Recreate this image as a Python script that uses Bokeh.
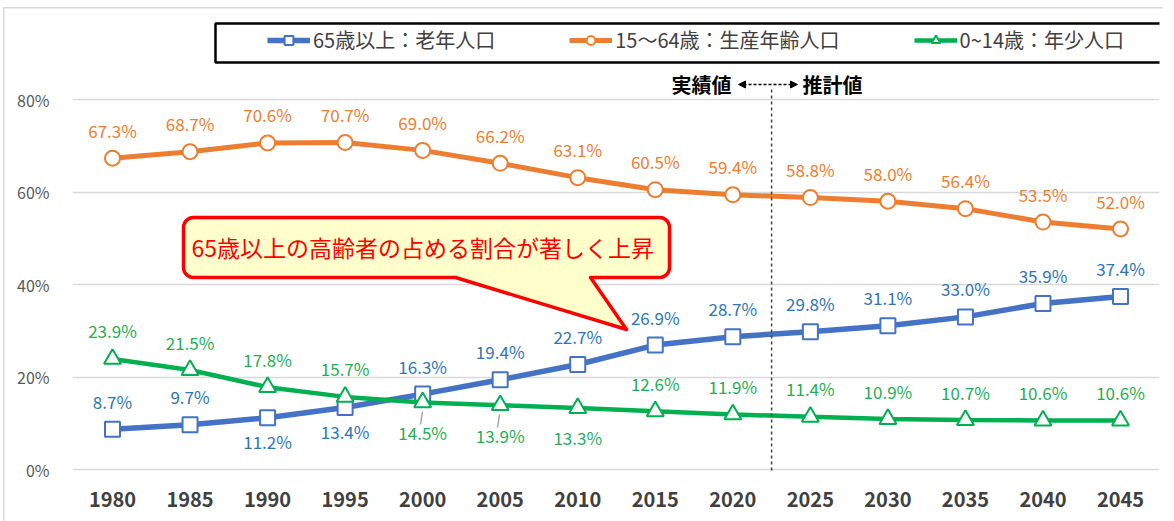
import numpy as np
from bokeh.plotting import figure
from bokeh.models import (ColumnDataSource, Legend, LegendItem, FixedTicker, PrintfTickFormatter,
                          Range1d, Arrow, NormalHead, BoxAnnotation)
from bokeh.core.properties import value
from bokeh.embed import file_html
from bokeh.resources import INLINE

# ---------------- data ----------------
years = [1980, 1985, 1990, 1995, 2000, 2005, 2010, 2015, 2020, 2025, 2030, 2035, 2040, 2045]
old_pct = [8.7, 9.7, 11.2, 13.4, 16.3, 19.4, 22.7, 26.9, 28.7, 29.8, 31.1, 33.0, 35.9, 37.4]
working_pct = [67.3, 68.7, 70.6, 70.7, 69.0, 66.2, 63.1, 60.5, 59.4, 58.8, 58.0, 56.4, 53.5, 52.0]
young_pct = [23.9, 21.5, 17.8, 15.7, 14.5, 13.9, 13.3, 12.6, 11.9, 11.4, 10.9, 10.7, 10.6, 10.6]
y_ticks = [0, 20, 40, 60, 80]
series_names = ["65歳以上：老年人口", "15～64歳：生産年齢人口", "0~14歳：年少人口"]
callout_text = "65歳以上の高齢者の占める割合が著しく上昇"
actual_text = "実績値"
forecast_text = "推計値"
old_below_years = [1990, 1995]
young_below_years = [2000, 2005, 2010]

# ---------------- style ----------------
BLUE = "#4472C4"
BLUE_LBL = "#2E75B6"
ORANGE = "#ED7D31"
GREEN = "#00B050"
GREEN_LBL = "#1FAE55"
FONT = "Noto Sans CJK JP"

W, H = 1174, 521
F_LEFT, F_RIGHT, F_TOP, F_BOTTOM = 72, 1159, 16, 471
PX_PER_YEAR = 77.54 / 5
PX_PER_PCT = 4.625


def dx(px):
    return 1980 + (px - 112) / PX_PER_YEAR


def dy(py):
    return (469 - py) / PX_PER_PCT


# faint chart-area border (left and top edges) drawn as host background
border_css = ("linear-gradient(#D9D9D9, #D9D9D9) 3px 7px / 1.5px 520px no-repeat, "
              "linear-gradient(#D9D9D9, #D9D9D9) 3px 7px / 1160px 1.5px no-repeat, white")

p = figure(width=W, height=H, output_backend="svg", toolbar_location=None,
           x_range=Range1d(dx(F_LEFT), dx(F_RIGHT)), y_range=Range1d(dy(F_BOTTOM), dy(F_TOP)),
           min_border_left=F_LEFT, min_border_right=W - F_RIGHT,
           min_border_top=F_TOP, min_border_bottom=H - F_BOTTOM,
           styles={"background": border_css})
p.outline_line_color = None
p.background_fill_color = "white"
p.border_fill_color = None

# axes
p.yaxis.ticker = FixedTicker(ticks=y_ticks)
p.yaxis.formatter = PrintfTickFormatter(format="%d%%")
p.yaxis.axis_line_color = None
p.yaxis.major_tick_line_color = None
p.yaxis.minor_tick_line_color = None
p.yaxis.major_label_text_font = FONT
p.yaxis.major_label_text_font_size = "16px"
p.yaxis.major_label_text_color = "#595959"
p.yaxis.major_label_standoff = 17

p.xaxis.ticker = FixedTicker(ticks=years)
p.xaxis.axis_line_color = None
p.xaxis.major_tick_line_color = None
p.xaxis.minor_tick_line_color = None
p.xaxis.major_label_text_font = FONT
p.xaxis.major_label_text_font_size = "20px"
p.xaxis.major_label_text_font_style = "bold"
p.xaxis.major_label_text_color = "#404040"
p.xaxis.major_label_standoff = 14

p.xgrid.grid_line_color = None
p.ygrid.ticker = FixedTicker(ticks=y_ticks)
p.ygrid.grid_line_color = "#D9D9D9"
p.ygrid.grid_line_width = 1.5

# vertical dashed separator
p.add_layout(Arrow(end=None, x_start=2022.5, x_end=2022.5, y_start=dy(89), y_end=dy(512),
                   line_dash="3 3", line_color="#404040", line_width=1.5))

# series
r_old_l = p.line(years, old_pct, line_color=BLUE, line_width=5.5)
r_old_m = p.scatter(years, old_pct, marker="square", size=15, fill_color="white",
                    line_color=BLUE, line_width=2)
r_wk_l = p.line(years, working_pct, line_color=ORANGE, line_width=5)
r_wk_m = p.scatter(years, working_pct, marker="circle", size=15, fill_color="white",
                   line_color=ORANGE, line_width=2)
r_yg_l = p.line(years, young_pct, line_color=GREEN, line_width=4.5)
r_yg_m = p.scatter(years, young_pct, marker="triangle", size=17, fill_color="white",
                   line_color=GREEN, line_width=2)

# leader lines for two green labels placed below
p.segment(x0=[dx(420), dx(497)], y0=[dy(424), dy(427)], x1=[dx(422), dx(499)], y1=[dy(411), dy(414)],
          line_color="#A6A6A6", line_width=1.5)


def label_source(vals, below_years, up_off, down_off):
    return ColumnDataSource(dict(
        x=years, y=vals, text=[f"{v:.1f}%" for v in vals],
        yoff=[down_off if yr in below_years else up_off for yr in years]))


for vals, below, col, dn in [(old_pct, old_below_years, BLUE_LBL, 24),
                             (working_pct, [], ORANGE, 24),
                             (young_pct, young_below_years, GREEN_LBL, 30)]:
    p.text(x="x", y="y", text="text", y_offset="yoff", source=label_source(vals, below, -28, dn),
           text_align="center", text_baseline="middle", text_color=col,
           text_font=value(FONT), text_font_size="17px")

# legend
legend = Legend(items=[LegendItem(label=series_names[0], renderers=[r_old_l, r_old_m]),
                       LegendItem(label=series_names[1], renderers=[r_wk_l, r_wk_m]),
                       LegendItem(label=series_names[2], renderers=[r_yg_l, r_yg_m])],
                orientation="horizontal", location=(267 - F_LEFT, F_BOTTOM - 54),
                border_line_color=None, background_fill_alpha=0, padding=0, margin=0,
                spacing=74, glyph_width=43, glyph_height=22, label_standoff=3,
                label_text_font=FONT, label_text_font_size="20px", label_text_color="#404040")
p.add_layout(legend)
p.add_layout(BoxAnnotation(left=dx(215), right=dx(1161), top=dy(23), bottom=dy(62),
                           fill_alpha=0, line_color="black", line_alpha=1, line_width=2.5))

# actual / forecast annotation
p.add_layout(Arrow(start=NormalHead(size=7, fill_color="black", line_color="black"),
                   end=NormalHead(size=7, fill_color="black", line_color="black"),
                   x_start=dx(738), x_end=dx(797), y_start=dy(84), y_end=dy(84),
                   line_dash="3 2", line_color="black", line_width=1.5))
p.text(x=[dx(731)], y=[dy(84)], text=[actual_text], text_align="right", text_baseline="middle",
       text_font=value(FONT), text_font_size="20px", text_font_style="bold", text_color="black")
p.text(x=[dx(802)], y=[dy(84)], text=[forecast_text], text_align="left", text_baseline="middle",
       text_font=value(FONT), text_font_size="20px", text_font_style="bold", text_color="black")

# callout
L, R, T, B, rad = 183, 669, 217, 277, 10


def arc(cx, cy, a0, a1, n=8):
    a = np.radians(np.linspace(a0, a1, n))
    return list(cx + rad * np.cos(a)), list(cy + rad * np.sin(a))


pts_x, pts_y = [], []
for cx, cy, a0, a1 in [(L + rad, T + rad, 180, 270), (R - rad, T + rad, 270, 360),
                       (R - rad, B - rad, 0, 90)]:
    ax_, ay_ = arc(cx, cy, a0, a1)
    pts_x += ax_
    pts_y += ay_
pts_x += [590, 626, 455]
pts_y += [B, 329, B]
ax_, ay_ = arc(L + rad, B - rad, 90, 180)
pts_x += ax_
pts_y += ay_
p.patch([dx(v) for v in pts_x], [dy(v) for v in pts_y], fill_color="#FFFFCC",
        line_color="#FF0000", line_width=3.5, line_join="round")
p.text(x=[dx(191)], y=[dy(246)], text=[callout_text], text_align="left", text_baseline="middle",
       text_font=value(FONT), text_font_size="23px", text_color="#FF0000")

open("out.html", "w").write(file_html(p, INLINE))
